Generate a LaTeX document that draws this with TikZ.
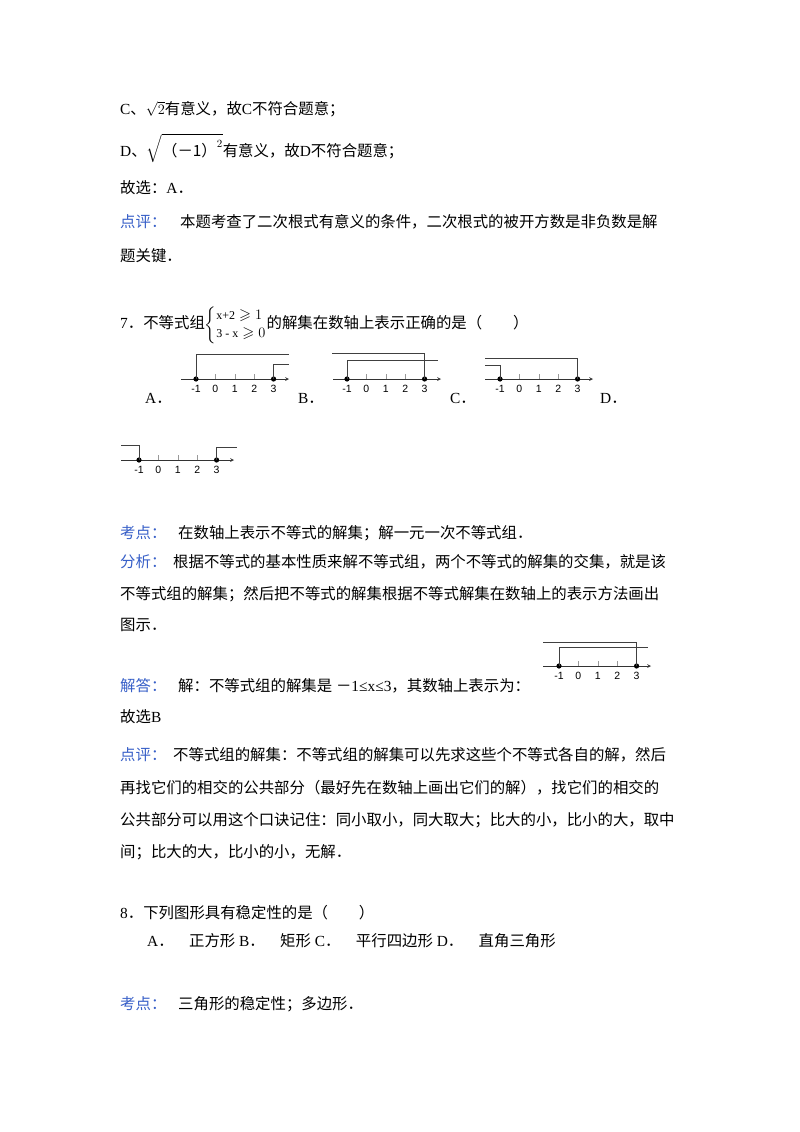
\documentclass[tikz,border=0pt]{standalone}
\usepackage{amsmath,amssymb}
\usepackage{fontspec}
\setmainfont{Liberation Serif}
\newfontfamily\cjk{Noto Sans CJK SC}
\newfontfamily\lab{Liberation Sans}
\newcommand{\dd}{{\cjk ．}}
\newcommand{\mm}{{\cjk －}}
\definecolor{kblue}{RGB}{55,95,200}
\tikzset{txt/.style={anchor=west,inner sep=0pt,font=\fontsize{15.4}{18}\selectfont},
 kw/.style={txt,text=kblue},
 axis/.style={->,>=stealth,line width=0.7pt,draw=black!80},
 sol/.style={line width=0.9pt,draw=black!75},
 tk/.style={draw=black!40,line width=0.5pt}}
\newcommand{\numaxis}[4]{% x of -1, y, start, end
 \draw[axis] (#3,#2) -- (#4,#2);
 \foreach \i/\l in {0/-1,1/0,2/1,3/2,4/3}{
  \draw[tk] ({#1+19.4*\i},#2) -- ({#1+19.4*\i},#2-5);
  \node[inner sep=0pt,font=\lab\fontsize{10.5}{12}\selectfont] at ({#1+19.4*\i},#2+10) {\l};}
 \fill ({#1},#2) circle (2.6);
 \fill ({#1+77.6},#2) circle (2.6);}
\begin{document}
\begin{tikzpicture}[x=1pt,y=-1pt]
\useasboundingbox (0,0) rectangle (800,1132);
\fill[white] (0,0) rectangle (800,1132);
\node[txt] at (120,109) {C\cjk 、\rmfamily$\sqrt{2}$\cjk 有意义，故\rmfamily C\cjk 不符合题意；};
\node[txt] at (120,148) {D\cjk 、\rmfamily$\sqrt{\text{\cjk （－1）}^{2}}$\cjk 有意义，故\rmfamily D\cjk 不符合题意；};
\node[txt] at (120,188) {\cjk 故选：\rmfamily A\dd};
\node[kw] at (120,222) {\cjk 点评：};
\node[txt] at (180,222) {\cjk 本题考查了二次根式有意义的条件，二次根式的被开方数是非负数是解};
\node[txt] at (120,256) {\cjk 题关键．};
\node[txt] at (120,325) {7\dd\cjk 不等式组\rmfamily$\left\{\begin{array}{@{}l@{}}\text{\fontsize{12}{13}\selectfont x+2}\geqslant 1\\ \text{\fontsize{12}{13}\selectfont 3 - x}\geqslant 0\end{array}\right.$\cjk 的解集在数轴上表示正确的是（\quad\quad ）};
% A
\numaxis{196}{379}{181}{289}
\draw[sol] (196,379) -- (196,354) -- (289,354);
\draw[sol] (273.6,379) -- (273.6,364) -- (289,364);
\node[txt] at (145,398) {A\dd};
% B
\numaxis{347}{379}{333}{441}
\draw[sol] (424.6,379) -- (424.6,353) -- (332,353);
\draw[sol] (347,379) -- (347,360) -- (438,360);
\node[txt] at (298,398) {B\dd};
% C
\numaxis{500}{379}{485}{593}
\draw[sol] (500,379) -- (500,365) -- (485,365);
\draw[sol] (577.6,379) -- (577.6,358) -- (485,358);
\node[txt] at (450,398) {C\dd};
\node[txt] at (600,398) {D\dd};
% D
\numaxis{139}{460}{121}{234}
\draw[sol] (139,460) -- (139,445) -- (121,445);
\draw[sol] (216.6,460) -- (216.6,447) -- (237,447);
\node[kw] at (120,533) {\cjk 考点：};
\node[txt] at (178,533) {\cjk 在数轴上表示不等式的解集；解一元一次不等式组．};
\node[kw] at (120,562) {\cjk 分析：};
\node[txt] at (173,562) {\cjk 根据不等式的基本性质来解不等式组，两个不等式的解集的交集，就是该};
\node[txt] at (120,594) {\cjk 不等式组的解集；然后把不等式的解集根据不等式解集在数轴上的表示方法画出};
\node[txt] at (120,625) {\cjk 图示．};
\node[kw] at (120,686) {\cjk 解答：};
\node[txt] at (178,686) {\cjk 解：不等式组的解集是\rmfamily\ \mm 1≤x≤3\cjk ，其数轴上表示为：};
\numaxis{559}{666}{543}{651}
\draw[sol] (636.6,666) -- (636.6,642) -- (543,642);
\draw[sol] (559,666) -- (559,647) -- (648,647);
\node[txt] at (120,717) {\cjk 故选\rmfamily B};
\node[kw] at (120,755) {\cjk 点评：};
\node[txt] at (173,755) {\cjk 不等式组的解集：不等式组的解集可以先求这些个不等式各自的解，然后};
\node[txt] at (120,788) {\cjk 再找它们的相交的公共部分（最好先在数轴上画出它们的解），找它们的相交的};
\node[txt] at (120,820) {\cjk 公共部分可以用这个口诀记住：同小取小，同大取大；比大的小，比小的大，取中};
\node[txt] at (120,852) {\cjk 间；比大的大，比小的小，无解．};
\node[txt] at (120,913) {8\dd\cjk 下列图形具有稳定性的是（\quad\quad ）};
\node[txt] at (147,941) {A\dd\quad\cjk 正方形\rmfamily\ B\dd\quad\cjk 矩形\rmfamily\ C\dd\quad\cjk 平行四边形\rmfamily\ D\dd\quad\cjk 直角三角形};
\node[kw] at (120,1004) {\cjk 考点：};
\node[txt] at (178,1004) {\cjk 三角形的稳定性；多边形．};
\end{tikzpicture}
\end{document}
